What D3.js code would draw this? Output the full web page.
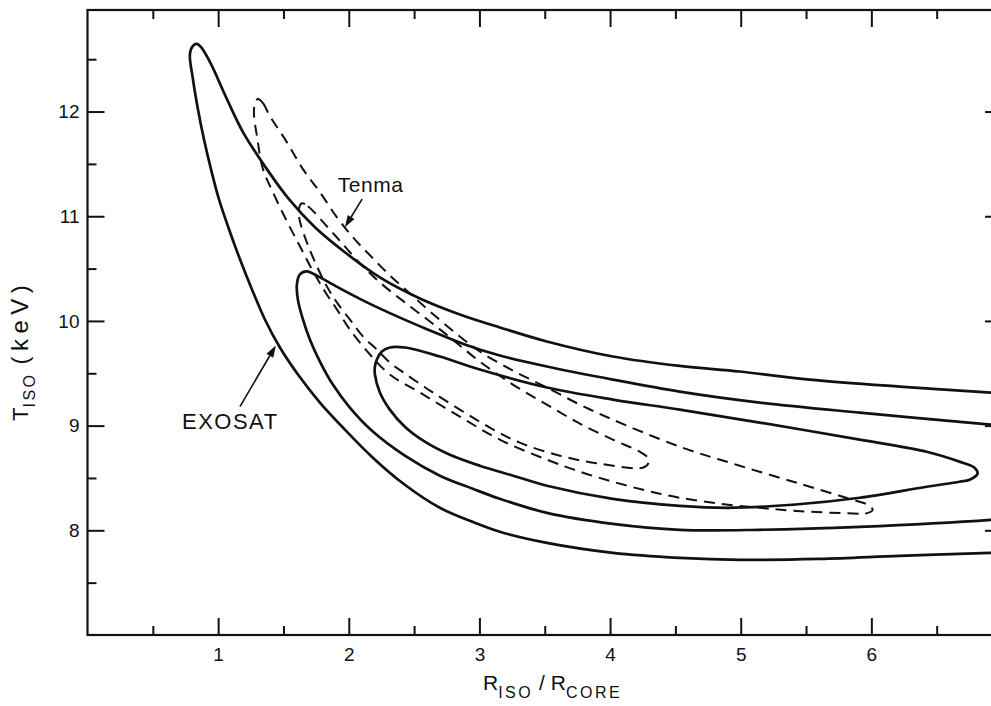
<!DOCTYPE html>
<html>
<head>
<meta charset="utf-8">
<script src="https://cdn.jsdelivr.net/npm/d3@7"></script>
<style>
  body { margin: 0; background: #fff; }
  svg { display: block; }
  text { font-family: "Liberation Sans", Arial, sans-serif; fill: #111; }
</style>
</head>
<body>
<svg id="chart" width="991" height="706"></svg>
<script>
// Axis ticks
const xMajorTicks = [1, 2, 3, 4, 5, 6];
const xMinorTicks = [0.5, 1.5, 2.5, 3.5, 4.5, 5.5, 6.5];
const yMajorTicks = [8, 9, 10, 11, 12];
const yMinorTicks = [7.5, 8.5, 9.5, 10.5, 11.5, 12.5];

// EXOSAT confidence contours (R_iso/R_core, T_iso keV)
const exosatOuter = [
  [7.00, 7.79], [6.913, 7.785], [6.216, 7.756], [5.605, 7.727], [4.992, 7.718], [4.533, 7.737],
  [4.021, 7.785], [3.516, 7.88], [3.156, 7.986], [2.965, 8.072], [2.697, 8.215], [2.429, 8.435],
  [2.184, 8.694], [1.97, 8.962], [1.779, 9.22], [1.611, 9.488], [1.473, 9.746], [1.358, 10.014],
  [1.259, 10.301], [1.167, 10.589], [1.083, 10.876], [1.006, 11.163], [0.945, 11.45],
  [0.891, 11.737], [0.845, 12.024], [0.807, 12.311], [0.784, 12.55], [0.807, 12.627],
  [0.838, 12.646], [0.868, 12.617], [0.937, 12.474], [1.067, 12.12], [1.19, 11.804],
  [1.373, 11.45], [1.542, 11.163], [1.741, 10.895], [1.97, 10.656], [2.238, 10.416],
  [2.544, 10.215], [2.85, 10.062], [3.156, 9.938], [3.516, 9.804], [4.021, 9.66],
  [4.533, 9.57], [4.992, 9.517], [5.528, 9.44], [6.216, 9.373], [6.913, 9.316], [7.00, 9.31]
];
const exosatMiddle = [
  [7.00, 8.11], [6.913, 8.10], [5.911, 8.033], [5.145, 8.005], [4.533, 8.005], [4.021, 8.062],
  [3.516, 8.167], [3.156, 8.301], [2.949, 8.397], [2.697, 8.522], [2.429, 8.713],
  [2.184, 8.943], [2.008, 9.172], [1.878, 9.392], [1.779, 9.612], [1.702, 9.823],
  [1.649, 10.014], [1.61, 10.206], [1.603, 10.35], [1.626, 10.445], [1.679, 10.474],
  [1.779, 10.416], [1.932, 10.311], [2.123, 10.187], [2.353, 10.053], [2.621, 9.909],
  [2.888, 9.775], [3.156, 9.67], [3.516, 9.565], [4.021, 9.44], [4.533, 9.325],
  [5.145, 9.22], [5.911, 9.124], [6.913, 9.01], [7.00, 9.0]
];
const exosatInner = [
  [2.2, 9.565], [2.215, 9.632], [2.253, 9.708], [2.314, 9.746], [2.429, 9.746], [2.697, 9.66],
  [3.003, 9.536], [3.516, 9.364], [4.021, 9.249], [4.533, 9.153], [5.145, 9.029],
  [5.911, 8.866], [6.423, 8.751], [6.675, 8.656], [6.79, 8.598], [6.813, 8.541],
  [6.752, 8.483], [6.675, 8.464], [6.423, 8.416], [5.911, 8.311], [5.398, 8.244],
  [4.893, 8.215], [4.533, 8.234], [4.021, 8.301], [3.516, 8.426], [3.27, 8.517],
  [3.003, 8.617], [2.774, 8.722], [2.582, 8.847], [2.429, 8.99], [2.314, 9.153],
  [2.238, 9.316], [2.2, 9.488]
];

// Tenma confidence contours
const tenmaOuter = [
  [1.304, 12.12], [1.343, 12.081], [1.396, 11.957], [1.526, 11.708], [1.649, 11.45],
  [1.779, 11.23], [1.909, 10.99], [2.031, 10.799], [2.162, 10.627], [2.314, 10.435],
  [2.468, 10.263], [2.621, 10.091], [2.812, 9.89], [3.003, 9.708], [3.256, 9.526],
  [3.516, 9.364], [3.768, 9.201], [4.021, 9.057], [4.533, 8.799], [4.992, 8.617],
  [5.452, 8.445], [5.857, 8.292], [5.972, 8.244], [6.01, 8.196], [5.949, 8.158],
  [5.911, 8.158], [5.398, 8.187], [5.145, 8.215], [4.839, 8.254], [4.533, 8.311],
  [4.281, 8.378], [4.021, 8.464], [3.768, 8.56], [3.516, 8.675], [3.156, 8.866],
  [2.85, 9.086], [2.544, 9.316], [2.314, 9.488], [2.162, 9.679], [2.008, 9.919],
  [1.909, 10.11], [1.817, 10.282], [1.718, 10.493], [1.626, 10.713], [1.526, 10.952],
  [1.419, 11.23], [1.343, 11.45], [1.297, 11.766], [1.274, 11.976], [1.282, 12.081]
];
const tenmaInner = [
  [1.641, 11.124], [1.687, 11.096], [1.832, 10.904], [1.955, 10.732], [2.085, 10.55],
  [2.238, 10.368], [2.429, 10.177], [2.621, 9.995], [2.812, 9.804], [3.003, 9.612],
  [3.256, 9.392], [3.516, 9.201], [3.768, 9.019], [4.021, 8.866], [4.227, 8.751],
  [4.289, 8.694], [4.296, 8.646], [4.25, 8.598], [3.921, 8.636], [3.615, 8.713],
  [3.309, 8.837], [3.08, 8.981], [2.85, 9.153], [2.621, 9.335], [2.429, 9.498],
  [2.314, 9.603], [2.215, 9.727], [2.108, 9.852], [2.008, 10.014], [1.909, 10.177],
  [1.832, 10.33], [1.756, 10.522], [1.679, 10.751], [1.626, 10.952], [1.618, 11.067]
];

// Labels with pointer arrows: text anchor, arrow tail, arrow head
const labelNames = ["Tenma", "EXOSAT"];
const labelAnchors = [[1.916, 11.23], [0.723, 8.971]];
const arrowTails = [[2.102, 11.163], [1.167, 9.182]];
const arrowHeads = [[1.97, 10.895], [1.442, 9.766]];

const svg = d3.select("#chart");
const x = d3.scaleLinear().domain([0, 7]).range([87.5, 1002]);
const y = d3.scaleLinear().domain([7, 12.97]).range([635, 10]);

const [x0, x1] = x.range();
const [y0, y1] = y.range();

svg.append("defs").append("clipPath").attr("id", "plot")
  .append("rect").attr("x", x0).attr("y", y1).attr("width", x1 - x0).attr("height", y0 - y1);

// Ticks (all pointing inward)
function tickAxis(axisFn, scale, values, size, labels, transform, padding) {
  const ax = axisFn(scale).tickValues(values).tickSizeInner(-size).tickSizeOuter(0)
    .tickPadding(padding || 6).tickFormat(labels ? d3.format("d") : "");
  const g = svg.append("g").attr("transform", transform).call(ax);
  g.select(".domain").remove();
  g.selectAll(".tick line").attr("stroke", "#111").attr("stroke-width", 2);
  g.selectAll("text").style("font-size", "19px").attr("fill", "#111");
  return g;
}
tickAxis(d3.axisBottom, x, xMajorTicks, 17, true, `translate(0,${y0})`, 13);
tickAxis(d3.axisBottom, x, xMinorTicks, 9, false, `translate(0,${y0})`);
tickAxis(d3.axisTop, x, xMajorTicks, 17, false, `translate(0,${y1})`);
tickAxis(d3.axisTop, x, xMinorTicks, 9, false, `translate(0,${y1})`);
tickAxis(d3.axisLeft, y, yMajorTicks, 17, true, `translate(${x0},0)`, 8);
tickAxis(d3.axisLeft, y, yMinorTicks, 9, false, `translate(${x0},0)`);
tickAxis(d3.axisRight, y, yMajorTicks, 17, false, `translate(${x1},0)`);
tickAxis(d3.axisRight, y, yMinorTicks, 9, false, `translate(${x1},0)`);

// Frame
svg.append("rect").attr("x", x0).attr("y", y1).attr("width", x1 - x0).attr("height", y0 - y1)
  .attr("fill", "none").attr("stroke", "#111").attr("stroke-width", 2.2);

// Contours
const openLine = d3.line().x(d => x(d[0])).y(d => y(d[1])).curve(d3.curveCatmullRom.alpha(0.5));
const closedLine = d3.line().x(d => x(d[0])).y(d => y(d[1])).curve(d3.curveCatmullRomClosed.alpha(0.5));

const plot = svg.append("g").attr("clip-path", "url(#plot)");
[exosatOuter, exosatMiddle].forEach(c => {
  plot.append("path").attr("d", openLine(c)).attr("fill", "none")
    .attr("stroke", "#111").attr("stroke-width", 2.7).attr("stroke-linejoin", "round");
});
plot.append("path").attr("d", closedLine(exosatInner)).attr("fill", "none")
  .attr("stroke", "#111").attr("stroke-width", 2.7).attr("stroke-linejoin", "round");
[tenmaOuter, tenmaInner].forEach(c => {
  plot.append("path").attr("d", closedLine(c)).attr("fill", "none")
    .attr("stroke", "#111").attr("stroke-width", 2).attr("stroke-dasharray", "11,7");
});

// Labels and pointer arrows
labelNames.forEach((name, i) => {
  svg.append("text").attr("x", x(labelAnchors[i][0])).attr("y", y(labelAnchors[i][1]))
    .style("font-size", i === 0 ? "21px" : "22px")
    .style("letter-spacing", i === 0 ? "0.5px" : "1.5px")
    .text(name);
  const tx = x(arrowTails[i][0]), ty = y(arrowTails[i][1]);
  const hx = x(arrowHeads[i][0]), hy = y(arrowHeads[i][1]);
  const ang = Math.atan2(hy - ty, hx - tx);
  const len = 12, hw = 4;
  const bx = hx - len * Math.cos(ang), by = hy - len * Math.sin(ang);
  svg.append("line").attr("x1", tx).attr("y1", ty).attr("x2", bx).attr("y2", by)
    .attr("stroke", "#111").attr("stroke-width", 1.6);
  const p = d3.path();
  p.moveTo(hx, hy);
  p.lineTo(bx + hw * Math.sin(ang), by - hw * Math.cos(ang));
  p.lineTo(bx - hw * Math.sin(ang), by + hw * Math.cos(ang));
  p.closePath();
  svg.append("path").attr("d", p.toString()).attr("fill", "#111");
});

// Axis titles
const xt = svg.append("text").attr("x", 483).attr("y", 690).style("font-size", "21px");
xt.append("tspan").text("R");
xt.append("tspan").attr("dy", 8).style("font-size", "16px").style("letter-spacing", "2.5px").text("ISO");
xt.append("tspan").attr("dy", -8).text(" / R");
xt.append("tspan").attr("dy", 8).style("font-size", "16px").style("letter-spacing", "2.5px").text("CORE");

const yt = svg.append("text").attr("transform", "translate(28,421) rotate(-90)").style("font-size", "22px");
yt.append("tspan").text("T");
yt.append("tspan").attr("dy", 7).style("font-size", "16px").style("letter-spacing", "2.5px").text("ISO");
yt.append("tspan").attr("dy", -7).attr("dx", 8).style("font-size", "24px").style("letter-spacing", "5.5px").text("(keV)");
</script>
</body>
</html>
